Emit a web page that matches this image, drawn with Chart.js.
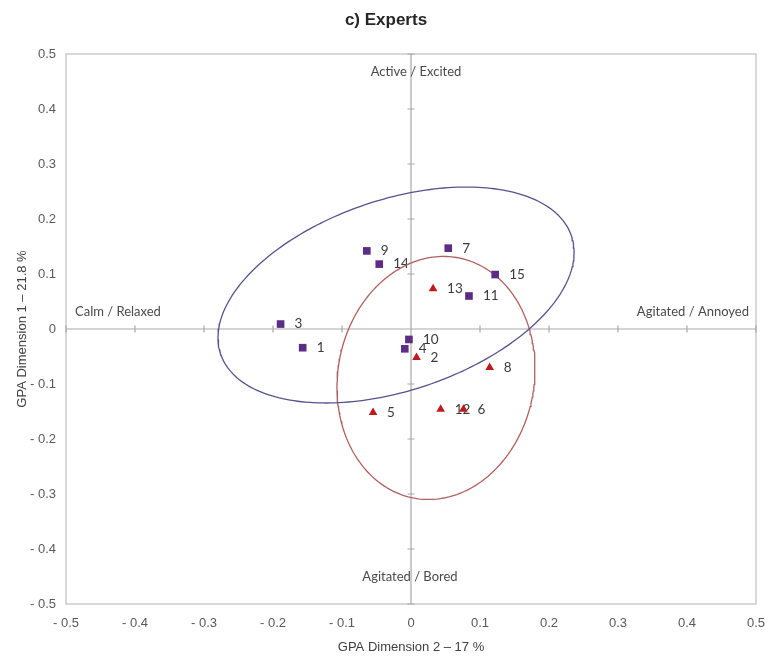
<!DOCTYPE html>
<html>
<head>
<meta charset="utf-8">
<script src="https://cdn.jsdelivr.net/npm/chart.js@4"></script>
<style>
  html, body { margin: 0; padding: 0; background: #ffffff; }
  #wrap { width: 766px; height: 659px; position: relative; }
</style>
</head>
<body>
<div id="wrap"><canvas id="gpa" width="766" height="659"></canvas></div>
<script>
// Participants (experts) placed on the first two GPA dimensions
const squareIds = ['1', '3', '4', '7', '9', '10', '11', '14', '15'];
const squareX   = [-0.157, -0.189, -0.009, 0.054, -0.064, -0.003, 0.084, -0.046, 0.122];
const squareY   = [-0.034,  0.009, -0.036, 0.147,  0.142, -0.019, 0.060,  0.118, 0.099];

const triangleIds = ['2', '5', '6', '8', '12', '13'];
const triangleX   = [0.008, -0.055, 0.076, 0.114, 0.043, 0.032];
const triangleY   = [-0.052, -0.152, -0.146, -0.070, -0.146, 0.073];

// Group ellipses: centre x, centre y, semi-major, semi-minor, rotation (degrees)
const squareEllipse   = [-0.0217, 0.0618, 0.2775, 0.1677, 27.5];
const triangleEllipse = [0.0362, -0.089, 0.2214, 0.1428, 85.2];

// Axis ticks
const tickValues = [-0.5, -0.4, -0.3, -0.2, -0.1, 0, 0.1, 0.2, 0.3, 0.4, 0.5];

// Quadrant descriptors
const quadrantTop    = 'Active / Excited';
const quadrantBottom = 'Agitated / Bored';
const quadrantLeft   = 'Calm / Relaxed';
const quadrantRight  = 'Agitated / Annoyed';

const chartTitle = 'c) Experts';
const xTitle = 'GPA Dimension 2 \u2013 17 %';
const yTitle = 'GPA Dimension 1 \u2013 21.8 %';

function ellipsePoints(p) {
  const [cx, cy, a, b, deg] = p;
  const th = deg * Math.PI / 180;
  const pts = [];
  for (let i = 0; i <= 240; i++) {
    const t = i / 240 * Math.PI * 2;
    pts.push({
      x: cx + a * Math.cos(t) * Math.cos(th) - b * Math.sin(t) * Math.sin(th),
      y: cy + a * Math.cos(t) * Math.sin(th) + b * Math.sin(t) * Math.cos(th)
    });
  }
  return pts;
}

function fmtTick(v) {
  const r = Math.round(v * 10) / 10;
  if (Math.abs(r) < 1e-9) return '0';
  return r < 0 ? '- ' + Math.abs(r).toFixed(1) : r.toFixed(1);
}

const ARIAL = '"Liberation Sans", Arial, sans-serif';
const HUMAN = 'Lato, "Open Sans", sans-serif';

const decor = {
  id: 'decor',
  beforeDatasetsDraw(chart) {
    const { ctx, chartArea: a, scales: { x, y } } = chart;
    const x0 = x.getPixelForValue(0), y0 = y.getPixelForValue(0);
    ctx.save();
    // plot frame
    ctx.strokeStyle = '#c4c4c4';
    ctx.lineWidth = 1.3;
    ctx.strokeRect(a.left, a.top, a.right - a.left, a.bottom - a.top);
    // zero axes with cross ticks
    ctx.strokeStyle = '#a9a9a9';
    ctx.lineWidth = 1.2;
    ctx.beginPath();
    ctx.moveTo(a.left, y0); ctx.lineTo(a.right, y0);
    ctx.moveTo(x0, a.top); ctx.lineTo(x0, a.bottom);
    tickValues.forEach(v => {
      const px = x.getPixelForValue(v), py = y.getPixelForValue(v);
      ctx.moveTo(px, y0 - 3.5); ctx.lineTo(px, y0 + 3.5);
      ctx.moveTo(x0 - 3.5, py); ctx.lineTo(x0 + 3.5, py);
    });
    ctx.stroke();

    // quadrant descriptors
    ctx.fillStyle = '#4a4a4a';
    ctx.font = '13px ' + HUMAN;
    ctx.textBaseline = 'middle';
    ctx.textAlign = 'center';
    ctx.fillText(quadrantTop, x0 + 5, a.top + 18);
    ctx.fillText(quadrantBottom, x0 - 1, a.bottom - 27);
    ctx.textAlign = 'left';
    ctx.fillText(quadrantLeft, a.left + 9, y0 - 17);
    ctx.textAlign = 'right';
    ctx.fillText(quadrantRight, a.right - 7, y0 - 17);

    // point numbers
    ctx.fillStyle = '#3a3a3a';
    ctx.font = '13.5px ' + HUMAN;
    ctx.textAlign = 'left';
    const label = (ids, xs, ys) => ids.forEach((id, i) => {
      ctx.fillText(id, x.getPixelForValue(xs[i]) + 14, y.getPixelForValue(ys[i]));
    });
    label(squareIds, squareX, squareY);
    label(triangleIds, triangleX, triangleY);
    ctx.restore();
  },
  afterDraw(chart) {
    const { ctx, chartArea: a } = chart;
    ctx.save();
    ctx.fillStyle = '#262626';
    ctx.font = 'bold 17px ' + ARIAL;
    ctx.textAlign = 'center';
    ctx.textBaseline = 'middle';
    ctx.fillText(chartTitle, 386, 20);

    ctx.fillStyle = '#404040';
    ctx.font = '13px ' + ARIAL;
    ctx.fillText(xTitle, (a.left + a.right) / 2, 647);
    ctx.translate(22, (a.top + a.bottom) / 2);
    ctx.rotate(-Math.PI / 2);
    ctx.fillText(yTitle, 0, 0);
    ctx.restore();
  }
};

const toPts = (xs, ys) => xs.map((v, i) => ({ x: v, y: ys[i] }));

// fixed axis box sizes so the plot frame sits where it should
function fixBox(size, horizontal) {
  return s => {
    if (horizontal) s.height = size; else s.width = size;
    s.paddingLeft = 0; s.paddingRight = 0; s.paddingTop = 0; s.paddingBottom = 0;
  };
}

new Chart(document.getElementById('gpa'), {
  type: 'scatter',
  data: {
    datasets: [
      {
        data: toPts(squareX, squareY),
        pointStyle: 'rect',
        pointRadius: 5.4,
        backgroundColor: '#5b2d86',
        borderColor: '#5b2d86',
        borderWidth: 0
      },
      {
        data: toPts(triangleX, triangleY),
        pointStyle: 'triangle',
        pointRadius: 5,
        backgroundColor: '#c0191c',
        borderColor: '#c0191c',
        borderWidth: 0
      },
      {
        data: ellipsePoints(squareEllipse),
        showLine: true,
        pointRadius: 0,
        borderColor: '#55538f',
        borderWidth: 1.3,
        fill: false,
        tension: 0
      },
      {
        data: ellipsePoints(triangleEllipse),
        showLine: true,
        pointRadius: 0,
        borderColor: '#b0605e',
        borderWidth: 1.3,
        fill: false,
        tension: 0
      }
    ]
  },
  options: {
    responsive: false,
    animation: false,
    events: [],
    layout: { padding: { left: 0, right: 10, top: 54, bottom: 0 } },
    plugins: { legend: { display: false }, tooltip: { enabled: false }, title: { display: false } },
    scales: {
      x: {
        type: 'linear',
        min: -0.5, max: 0.5,
        afterBuildTicks: s => { s.ticks = tickValues.map(v => ({ value: v })); },
        afterFit: fixBox(55, true),
        grid: { display: false, drawTicks: false },
        border: { display: false },
        ticks: {
          padding: 12,
          maxRotation: 0,
          autoSkip: false,
          color: '#595959',
          font: { family: ARIAL, size: 13 },
          callback: v => fmtTick(v)
        }
      },
      y: {
        type: 'linear',
        min: -0.5, max: 0.5,
        afterBuildTicks: s => { s.ticks = tickValues.map(v => ({ value: v })); },
        afterFit: fixBox(66, false),
        grid: { display: false, drawTicks: false },
        border: { display: false },
        ticks: {
          padding: 10,
          autoSkip: false,
          color: '#595959',
          font: { family: ARIAL, size: 13 },
          callback: v => fmtTick(v)
        }
      }
    }
  },
  plugins: [decor]
});
</script>
</body>
</html>
